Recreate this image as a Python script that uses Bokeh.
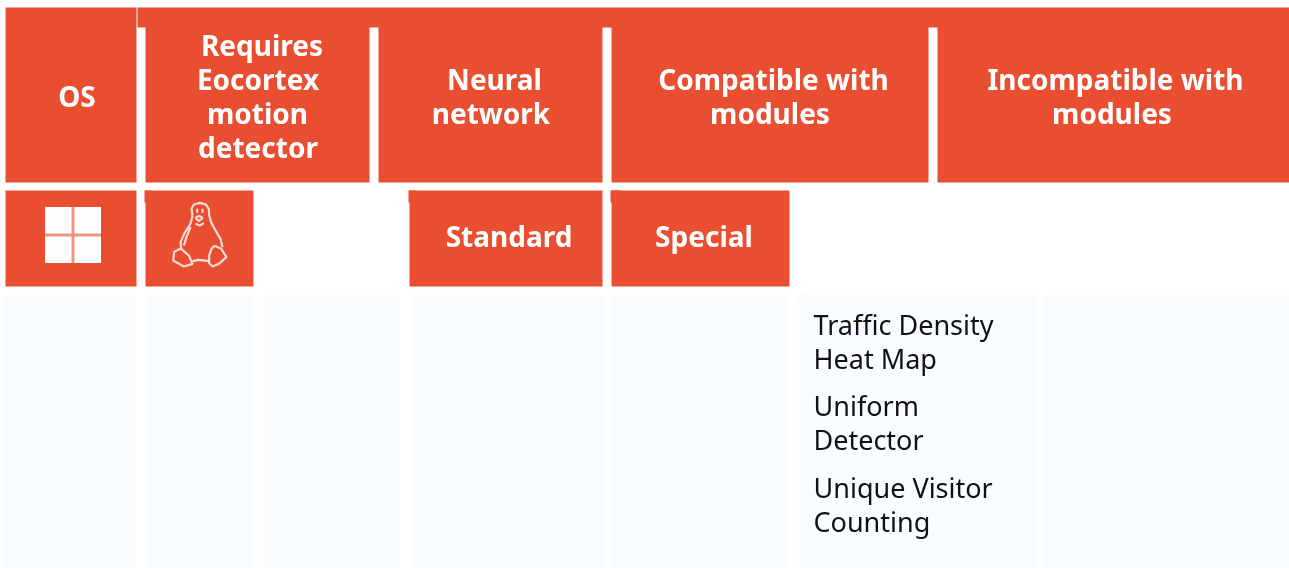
from bokeh.plotting import figure
from bokeh.embed import file_html
from bokeh.resources import INLINE
from bokeh.models import ColumnDataSource
from bokeh.core.properties import value

# ---- content ----
header_labels = ["OS", "Requires\nEocortex\nmotion\ndetector", "Neural\nnetwork",
                 "Compatible with\nmodules", "Incompatible with\nmodules"]
subheader_labels = ["Standard", "Special"]
compatible_modules = ["Traffic Density\nHeat Map", "Uniform\nDetector", "Unique Visitor\nCounting"]

# ---- layout (page pixels) ----
W, H = 1289, 568
ORANGE = "#E94E30"
PALE = "#F9FDFF"
BOLD_FONT = "Noto Sans"
BODY_FONT = "Noto Sans"
BOLD_SIZE = "28px"
BODY_SIZE = "27px"

orange_rects = [  # left, right, top, bottom
    (5, 136, 7, 182), (137, W, 7, 27), (145, 369, 20, 182), (378, 602, 20, 182),
    (611, 928, 20, 182), (937, W, 20, 182),
    (5, 136, 190, 286), (145, 253, 190, 286), (144, 150, 190, 202),
    (409, 602, 190, 286), (408, 415, 190, 202), (611, 789, 190, 286), (610, 620, 190, 202),
]
pale_rects = [
    (5, 136, 294, H), (145, 253, 294, H), (262, 400, 294, H), (409, 602, 294, H),
    (611, 789, 294, H), (798, 1037, 294, H), (797, 805, 294, 306), (1045, W, 294, H),
]
windows_back = [(44.5, 100.5, 206.5, 262.5)]
windows_panes = [(44.5, 71, 206.5, 233), (74, 100.5, 206.5, 233),
                 (44.5, 71, 236, 262.5), (74, 100.5, 236, 262.5)]
tux_origin = (130, 180)
tux_paths = [  # 3x-zoom coordinates relative to tux_origin
    [(186, 105), (183, 85), (190, 72), (208, 67), (226, 72), (235, 85), (236, 105), (242, 125),
     (255, 150), (270, 175), (276, 200)],
    [(186, 105), (180, 130), (162, 158), (150, 185), (152, 205)],
    [(150, 205), (131, 214), (128, 240), (160, 258), (186, 250), (175, 225), (152, 205)],
    [(252, 196), (243, 205), (236, 225), (236, 248), (246, 258), (265, 250), (288, 230), (272, 205), (252, 196)],
    [(186, 242), (205, 238), (236, 242)],
    [(160, 195), (168, 170), (180, 140)],
    [(195, 130), (208, 135), (220, 128)],
    [(195, 112), (205, 106), (216, 112), (205, 122), (195, 112)],
    [(200, 85), (200, 97)], [(216, 85), (216, 97)],
]

# text anchors: centre x of each line, first line y
header_anchor = [([76.5], 95), ([261.5, 257.5, 257, 257.5], 44), ([494, 490.5], 78),
                 ([773, 769.5], 78), ([1115, 1111.5], 78)]
subheader_anchor = [([508.5], 235), ([703.5], 235)]
module_anchor = [([813, 813], 324), ([813, 813], 405), ([813, 813], 487)]
LINE = 34


def rects(rows):
    return dict(left=[r[0] for r in rows], right=[r[1] for r in rows],
                top=[r[2] for r in rows], bottom=[r[3] for r in rows])


def split_lines(labels, anchors):
    xs, ys, txt = [], [], []
    for lab, (line_x, y) in zip(labels, anchors):
        for i, line in enumerate(lab.split("\n")):
            xs.append(line_x[i])
            ys.append(y + i * LINE)
            txt.append(line)
    return ColumnDataSource(dict(x=xs, y=ys, text=txt))


p = figure(width=W, height=H, x_range=(0, W), y_range=(H, 0), output_backend="svg",
           toolbar_location=None, min_border=0, outline_line_color=None,
           background_fill_color="white", border_fill_color="white",
           styles={"position": "fixed", "left": "0px", "top": "0px"})
p.xaxis.visible = False
p.yaxis.visible = False
p.xgrid.visible = False
p.ygrid.visible = False

p.quad(source=ColumnDataSource(rects(pale_rects)), left="left", right="right", top="top", bottom="bottom",
       fill_color=PALE, line_color=None)
p.quad(source=ColumnDataSource(rects(orange_rects)), left="left", right="right", top="top", bottom="bottom",
       fill_color=ORANGE, line_color=None)
p.quad(source=ColumnDataSource(rects(windows_back)), left="left", right="right", top="top", bottom="bottom",
       fill_color="white", fill_alpha=0.4, line_color=None)
p.quad(source=ColumnDataSource(rects(windows_panes)), left="left", right="right", top="top", bottom="bottom",
       fill_color="white", line_color=None)

ox, oy = tux_origin
p.multi_line(xs=[[ox + a / 3 for a, _ in path] for path in tux_paths],
             ys=[[oy + b / 3 for _, b in path] for path in tux_paths],
             line_color="white", line_width=2.2, line_alpha=0.8)

bold_src = split_lines(header_labels + subheader_labels, header_anchor + subheader_anchor)
p.text(source=bold_src, x="x", y="y", text="text", text_color="white", text_font=value(BOLD_FONT),
       text_font_style="bold", text_font_size=BOLD_SIZE, text_align="center", text_baseline="alphabetic")
body_src = split_lines(compatible_modules, module_anchor)
p.text(source=body_src, x="x", y="y", text="text", text_color="#111111", text_font=value(BODY_FONT),
       text_font_size=BODY_SIZE, text_align="left", text_baseline="alphabetic")

open("out.html", "w").write(file_html(p, INLINE))
